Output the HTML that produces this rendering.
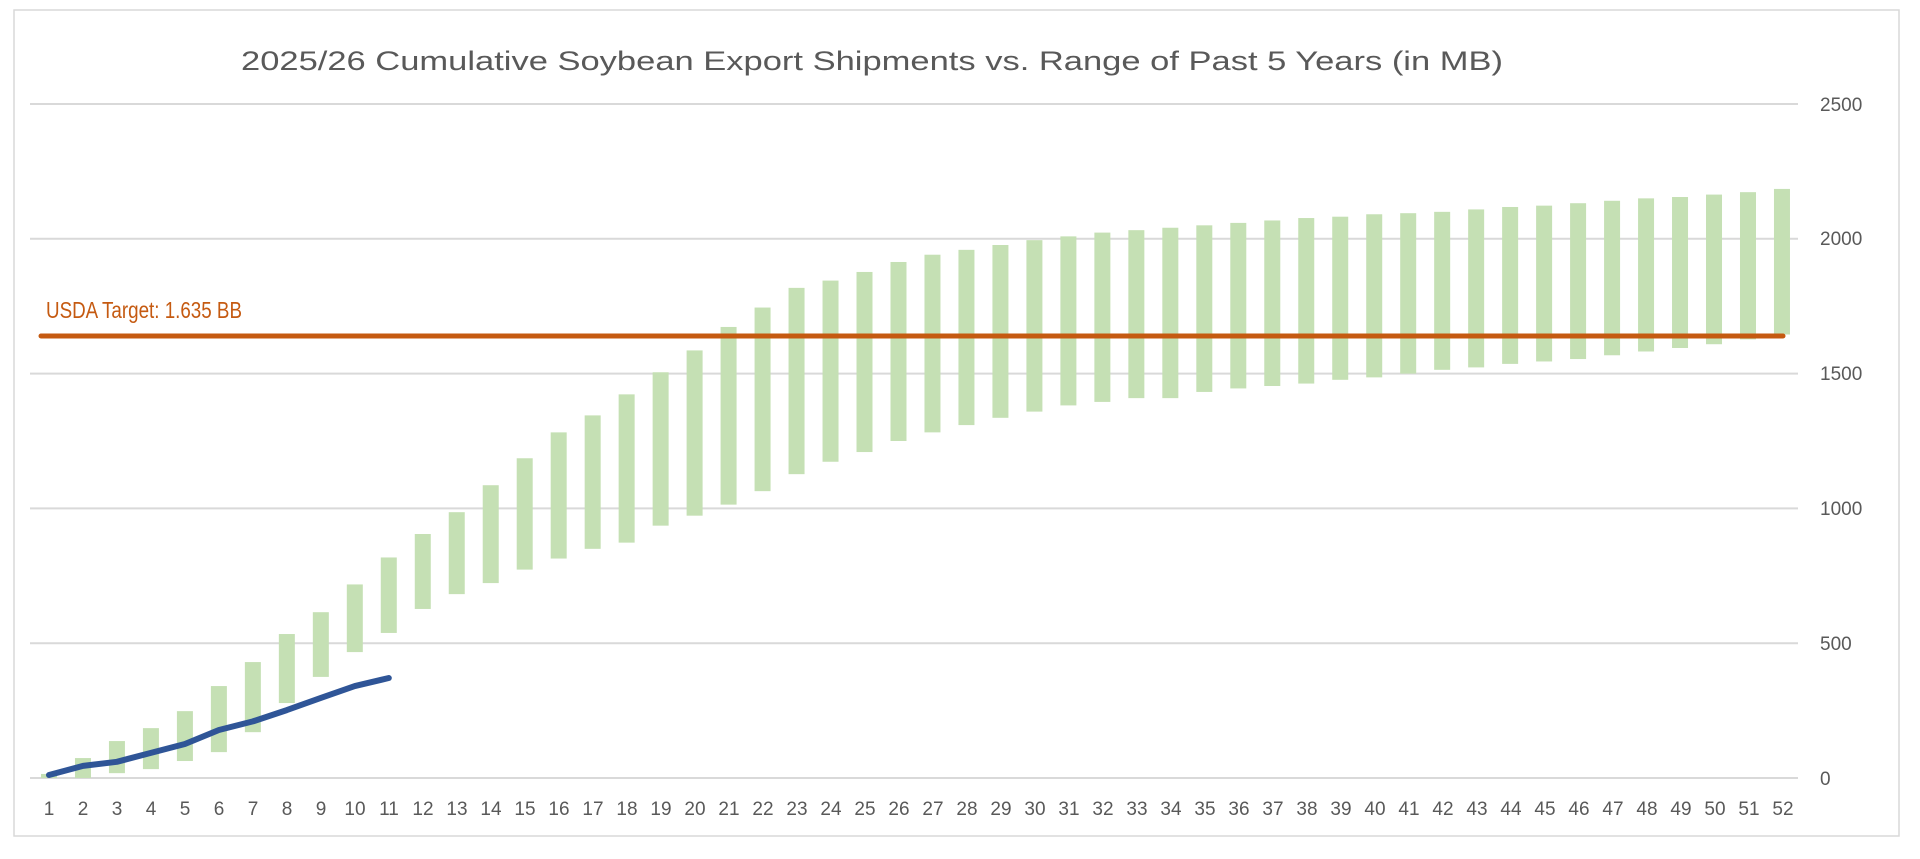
<!DOCTYPE html>
<html><head><meta charset="utf-8"><style>
html,body{margin:0;padding:0;background:#fff;}
svg{display:block;}
text{font-family:"Liberation Sans",sans-serif;}
</style></head><body>
<svg id="s" width="1920" height="859" viewBox="0 0 1920 859" xmlns="http://www.w3.org/2000/svg">
<rect x="14" y="10" width="1885" height="826" fill="#fff" stroke="#d9d9d9" stroke-width="1.5"/>
<text x="872" y="70" font-size="27" fill="#595959" text-anchor="middle" textLength="1262" lengthAdjust="spacingAndGlyphs">2025/26 Cumulative Soybean Export Shipments vs. Range of Past 5 Years (in MB)</text>
<g stroke="#d9d9d9" stroke-width="2">
<line x1="30" x2="1798" y1="104" y2="104"/>
<line x1="30" x2="1798" y1="238.8" y2="238.8"/>
<line x1="30" x2="1798" y1="373.6" y2="373.6"/>
<line x1="30" x2="1798" y1="508.4" y2="508.4"/>
<line x1="30" x2="1798" y1="643.2" y2="643.2"/>
<line x1="30" x2="1798" y1="778" y2="778"/>
</g>
<g font-size="19" fill="#595959">
<text x="1820" y="111">2500</text>
<text x="1820" y="245">2000</text>
<text x="1820" y="380">1500</text>
<text x="1820" y="515">1000</text>
<text x="1820" y="650">500</text>
<text x="1820" y="785">0</text>
</g>
<g id="bars" fill="#c5e0b4"></g>
<line x1="41" x2="1783" y1="336" y2="336" stroke="#c55a11" stroke-width="5" stroke-linecap="round"/>
<text x="46" y="318" font-size="23" fill="#c55a11" textLength="196" lengthAdjust="spacingAndGlyphs">USDA Target: 1.635 BB</text>
<polyline id="ln" fill="none" stroke="#2f5597" stroke-width="6" stroke-linecap="round" stroke-linejoin="round" points=""/>
<g font-size="19" fill="#595959" text-anchor="middle">
<text x="49" y="815">1</text><text x="83" y="815">2</text><text x="117" y="815">3</text><text x="151" y="815">4</text><text x="185" y="815">5</text><text x="219" y="815">6</text><text x="253" y="815">7</text><text x="287" y="815">8</text><text x="321" y="815">9</text><text x="355" y="815">10</text><text x="389" y="815">11</text><text x="423" y="815">12</text><text x="457" y="815">13</text><text x="491" y="815">14</text><text x="525" y="815">15</text><text x="559" y="815">16</text><text x="593" y="815">17</text><text x="627" y="815">18</text><text x="661" y="815">19</text><text x="695" y="815">20</text><text x="729" y="815">21</text><text x="763" y="815">22</text><text x="797" y="815">23</text><text x="831" y="815">24</text><text x="865" y="815">25</text><text x="899" y="815">26</text><text x="933" y="815">27</text><text x="967" y="815">28</text><text x="1001" y="815">29</text><text x="1035" y="815">30</text><text x="1069" y="815">31</text><text x="1103" y="815">32</text><text x="1137" y="815">33</text><text x="1171" y="815">34</text><text x="1205" y="815">35</text><text x="1239" y="815">36</text><text x="1273" y="815">37</text><text x="1307" y="815">38</text><text x="1341" y="815">39</text><text x="1375" y="815">40</text><text x="1409" y="815">41</text><text x="1443" y="815">42</text><text x="1477" y="815">43</text><text x="1511" y="815">44</text><text x="1545" y="815">45</text><text x="1579" y="815">46</text><text x="1613" y="815">47</text><text x="1647" y="815">48</text><text x="1681" y="815">49</text><text x="1715" y="815">50</text><text x="1749" y="815">51</text><text x="1783" y="815">52</text>
</g>
</svg>
<script>
var lo=[0,0,18,33,63,96,170,278,375,467,538,627,682,723,773,814,850,873,936,973,1014,1064,1127,1173,1209,1250,1282,1309,1336,1359,1382,1395,1409,1409,1432,1445,1454,1463,1477,1486,1500,1514,1523,1536,1545,1554,1568,1582,1595,1609,1627,1645];
var hi=[15,74,137,185,248,341,430,534,615,718,818,905,986,1086,1186,1282,1345,1423,1505,1586,1673,1745,1818,1845,1877,1914,1941,1959,1977,1995,2009,2023,2032,2041,2050,2059,2068,2077,2082,2091,2095,2100,2109,2118,2123,2132,2141,2150,2155,2164,2173,2185];
var bl=[11,45,60,93,126,178,210,252,297,341,371];
function Y(v){return 778-v*0.2696;}
function X(i){return 32+(i+0.5)*33.98;}
var g=document.getElementById('bars'),ns='http://www.w3.org/2000/svg';
for(var i=0;i<52;i++){var r=document.createElementNS(ns,'rect');r.setAttribute('x',X(i)-8);r.setAttribute('width',16);r.setAttribute('y',Y(hi[i]));r.setAttribute('height',Y(lo[i])-Y(hi[i]));g.appendChild(r);}
var p=[];for(var j=0;j<bl.length;j++)p.push(X(j).toFixed(1)+','+Y(bl[j]).toFixed(1));
document.getElementById('ln').setAttribute('points',p.join(' '));
</script>
</body></html>
